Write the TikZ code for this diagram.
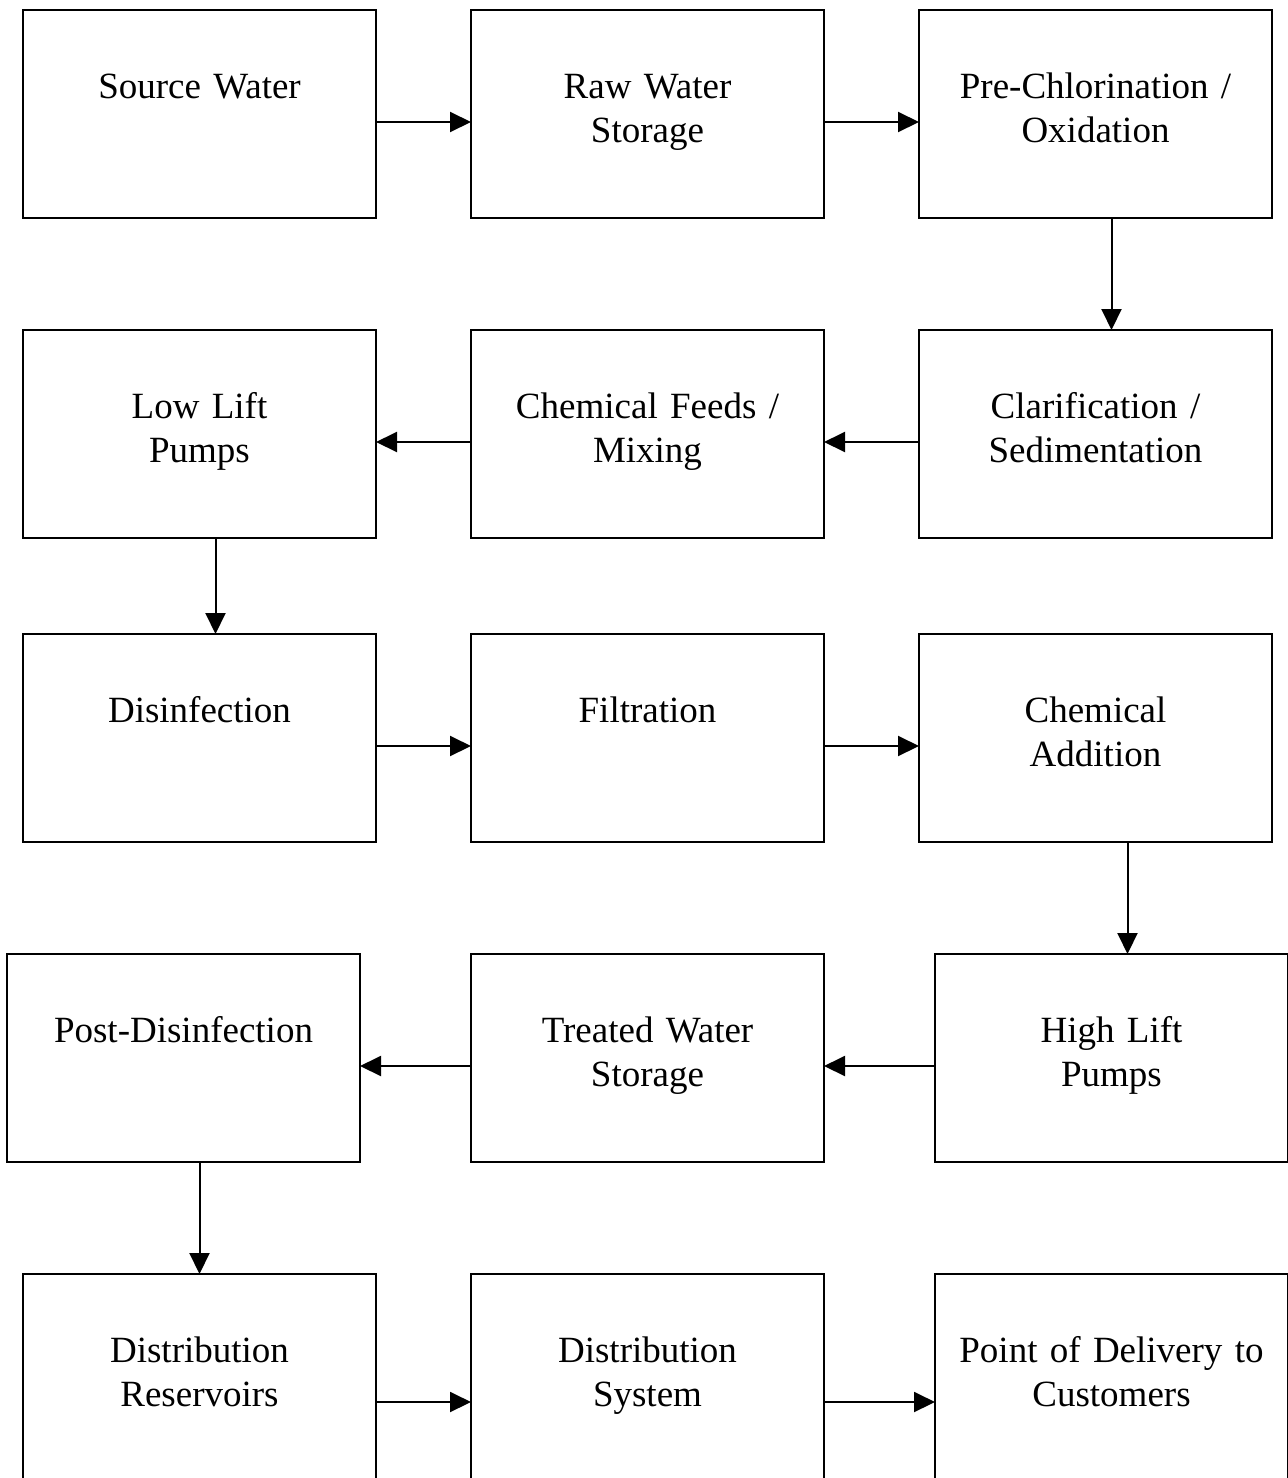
\documentclass[tikz,border=0pt]{standalone}
\usepackage{fontspec}
\setmainfont{Liberation Serif}
\usepackage{tikz}
\usetikzlibrary{positioning,arrows.meta}
\tikzset{
  flow/.style={draw=black, line width=1pt,
    -{Triangle[length=10.5pt,width=10pt]}},
}

\begin{document}
\begin{tikzpicture}
                    \tikzstyle{stepbox}=[rectangle, draw=black, line width=1pt,
                        outer sep=0pt, inner sep=0pt, align=center,
                        text width=176.5pt, text height=44.4pt, text depth=59.6pt,
                        font=\fontsize{18.5pt}{21.75pt}\selectfont]
                    \useasboundingbox (0,0) rectangle (644pt,-739pt);

                    \node (Source) [stepbox] at (99.75pt,-57pt)
                        {Source Water};
                    \node (RawStore) [stepbox, right= 47.5pt of Source]
                        {Raw Water\\Storage};
                    \node (PreChlor) [stepbox, right= 47.5pt of RawStore]
                        {Pre-Chlorination /\\Oxidation};

                    \node (Clarify) [stepbox, below= 56pt of PreChlor]
                        {Clarification /\\Sedimentation};
                    \node (ChemFeed) [stepbox, below= 56pt of RawStore]
                        {Chemical Feeds /\\Mixing};
                    \node (LowLift) [stepbox, below= 56pt of Source]
                        {Low Lift\\Pumps};

                    \node (Disinfect) [stepbox, below= 48pt of LowLift]
                        {Disinfection};
                    \node (Filter) [stepbox, below= 48pt of ChemFeed]
                        {Filtration};
                    \node (ChemAdd) [stepbox, below= 48pt of Clarify]
                        {Chemical\\Addition};

                    \node (TreatStore) [stepbox, below= 56pt of Filter]
                        {Treated Water\\Storage};
                    \node (HighLift) [stepbox, right= 55.5pt of TreatStore]
                        {High Lift\\Pumps};
                    \node (PostDis) [stepbox, left= 55.5pt of TreatStore]
                        {Post-Disinfection};

                    \node (DistSys) [stepbox, below= 56pt of TreatStore]
                        {Distribution\\System};
                    \node (DistRes) [stepbox, left= 47.5pt of DistSys]
                        {Distribution\\Reservoirs};
                    \node (Delivery) [stepbox, right= 55.5pt of DistSys]
                        {Point of Delivery to\\Customers};

                    \draw[flow] ([yshift=-4pt]Source.east) -- ([yshift=-4pt]RawStore.west);
                    \draw[flow] ([yshift=-4pt]RawStore.east) -- ([yshift=-4pt]PreChlor.west);
                    \draw[flow] ([xshift=8pt]PreChlor.south) -- ([xshift=8pt]Clarify.north);
                    \draw[flow] ([yshift=-4pt]Clarify.west) -- ([yshift=-4pt]ChemFeed.east);
                    \draw[flow] ([yshift=-4pt]ChemFeed.west) -- ([yshift=-4pt]LowLift.east);
                    \draw[flow] ([xshift=8pt]LowLift.south) -- ([xshift=8pt]Disinfect.north);
                    \draw[flow] ([yshift=-4pt]Disinfect.east) -- ([yshift=-4pt]Filter.west);
                    \draw[flow] ([yshift=-4pt]Filter.east) -- ([yshift=-4pt]ChemAdd.west);
                    \draw[flow] ([xshift=16pt]ChemAdd.south) -- ([xshift=8pt]HighLift.north);
                    \draw[flow] ([yshift=-4pt]HighLift.west) -- ([yshift=-4pt]TreatStore.east);
                    \draw[flow] ([yshift=-4pt]TreatStore.west) -- ([yshift=-4pt]PostDis.east);
                    \draw[flow] ([xshift=8pt]PostDis.south) -- (DistRes.north);
                    \draw[flow] ([yshift=-12pt]DistRes.east) -- ([yshift=-12pt]DistSys.west);
                    \draw[flow] ([yshift=-12pt]DistSys.east) -- ([yshift=-12pt]Delivery.west);
                \end{tikzpicture}
\end{document}
